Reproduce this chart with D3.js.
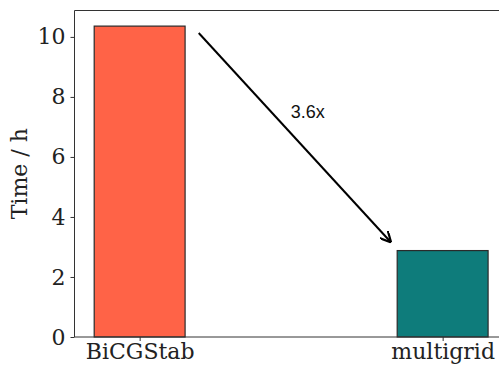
<!DOCTYPE html>
<html><head><meta charset="utf-8">
<script src="https://cdn.jsdelivr.net/npm/d3@7"></script>
<style>body{margin:0;background:#fff}svg{display:block}</style>
</head><body><svg id="c" width="499" height="368"></svg>
<script>
const categories = ["BiCGStab", "multigrid"];
const values = [10.36, 2.88];
const colors = ["#ff6347", "#0e7c7b"];
const yTicks = [0, 2, 4, 6, 8, 10];
const annotation = {text: "3.6x", from: [0.195, 10.13], to: [0.83, 3.15], textAt: [0.555, 7.5]};

(function () {
const svg = d3.select("#c");
const mLeft = 74.5, mTop = 10.5, mBottom = 337;
const catPos = [0, 1];
const barW = 0.3;
const x = d3.scaleLinear().domain([-0.215, 1.215]).range([mLeft, mLeft + 1.43 * 303]);
const y = d3.scaleLinear().domain([0, 10.88]).range([mBottom, mTop]);

// bars
svg.selectAll("rect.bar").data(values).join("rect")
  .attr("x", (d, i) => x(catPos[i] - barW / 2))
  .attr("width", (d, i) => x(catPos[i] + barW / 2) - x(catPos[i] - barW / 2))
  .attr("y", d => y(d)).attr("height", d => y(0) - y(d))
  .attr("fill", (d, i) => colors[i]).attr("stroke", "#2a2a2a").attr("stroke-width", 1.2);

// spines
const sp = svg.append("g").attr("stroke", "#333").attr("stroke-width", 1).attr("fill", "none");
sp.append("line").attr("x1", mLeft).attr("x2", mLeft).attr("y1", mTop).attr("y2", mBottom);
sp.append("line").attr("x1", mLeft).attr("x2", 520).attr("y1", mTop).attr("y2", mTop);
sp.append("line").attr("x1", mLeft).attr("x2", 520).attr("y1", mBottom).attr("y2", mBottom);

// y axis
const ya = svg.append("g").attr("transform", `translate(${mLeft},0)`)
  .call(d3.axisLeft(y).tickValues(yTicks).tickSize(4).tickPadding(5).tickFormat(d3.format("d")));
ya.select(".domain").remove();
ya.selectAll("line").attr("stroke", "#333");
ya.selectAll("text").attr("font-family", "DejaVu Serif").attr("font-size", 22).attr("fill", "#222");

// x axis
const xa = svg.append("g").attr("transform", `translate(0,${mBottom})`)
  .call(d3.axisBottom(x).tickValues(catPos).tickSize(4).tickPadding(2).tickFormat((d, i) => categories[i]));
xa.select(".domain").remove();
xa.selectAll("line").attr("stroke", "#333");
xa.selectAll("text").attr("font-family", "DejaVu Serif").attr("font-size", 22).attr("fill", "#222");

// y label
svg.append("text").attr("transform", `translate(27,${(mTop + mBottom) / 2}) rotate(-90)`)
  .attr("text-anchor", "middle").attr("font-family", "DejaVu Serif").attr("font-size", 22)
  .attr("fill", "#222").text("Time / h");

// arrow
const defs = svg.append("defs");
defs.append("marker").attr("id", "ah").attr("viewBox", "0 0 10 10").attr("refX", 10).attr("refY", 5)
  .attr("markerWidth", 11).attr("markerHeight", 11).attr("markerUnits", "userSpaceOnUse").attr("orient", "auto")
  .append("path").attr("d", "M0,0 L10,5 L0,10").attr("fill", "none").attr("stroke", "#000").attr("stroke-width", 2);
svg.append("line")
  .attr("x1", x(annotation.from[0])).attr("y1", y(annotation.from[1]))
  .attr("x2", x(annotation.to[0])).attr("y2", y(annotation.to[1]))
  .attr("stroke", "#000").attr("stroke-width", 2).attr("marker-end", "url(#ah)");
svg.append("text").attr("x", x(annotation.textAt[0])).attr("y", y(annotation.textAt[1]))
  .attr("text-anchor", "middle").attr("dominant-baseline", "central")
  .attr("font-family", "Liberation Sans, Arial, sans-serif").attr("font-size", 18).attr("fill", "#111")
  .text(annotation.text);
})();
</script></body></html>
